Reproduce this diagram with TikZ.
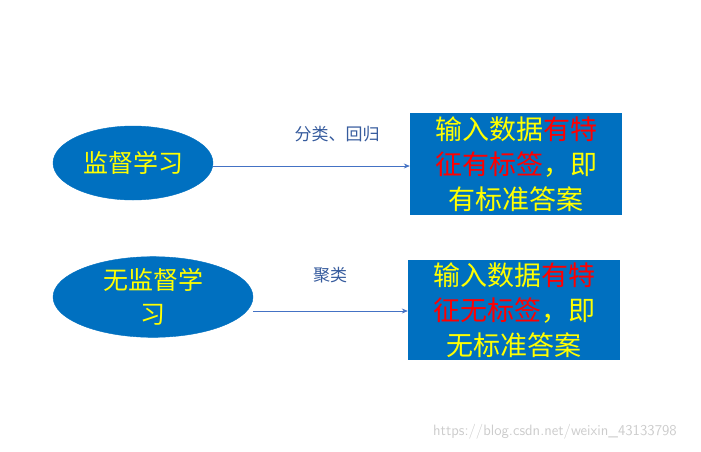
\documentclass[tikz,border=0pt]{standalone}
\usepackage{fontspec}
\newfontfamily\cjk{Noto Sans CJK SC}
\usetikzlibrary{shapes.geometric,arrows.meta}
\definecolor{bl}{HTML}{0070C0}
\definecolor{yl}{HTML}{FFFF00}
\definecolor{rd}{HTML}{FF0000}
\definecolor{lb}{HTML}{4472C4}
\tikzset{
 ell/.style={ellipse,fill=bl,draw=bl,text=yl,font=\cjk\fontsize{25}{34}\selectfont,inner sep=0pt,align=center},
 box/.style={rectangle,fill=bl,text=yl,font=\cjk\fontsize{27}{35}\selectfont,align=center,inner sep=0pt,minimum width=212pt},
 arr/.style={-{Stealth[length=6pt,width=5pt]},draw=lb,line width=0.7pt},
 lab/.style={text=lb!80!black,font=\cjk\fontsize{17}{20}\selectfont}
}
\begin{document}
\begin{tikzpicture}[x=1pt,y=-1pt]
\useasboundingbox (0,0) rectangle (701,451);
\node[ell,minimum width=160pt,minimum height=74pt] (e1) at (133,163) {监督学习};
\node[ell,minimum width=200pt,minimum height=77pt] (e2) at (153,297) {无监督学\\习};
\node[box,minimum height=102pt] (b1) at (516,164) {输入数据\textcolor{rd}{有特}\\\textcolor{rd}{征有标签}，即\\有标准答案};
\node[box,minimum height=100pt] (b2) at (514,310) {输入数据\textcolor{rd}{有特}\\\textcolor{rd}{征无标签}，即\\无标准答案};
\coordinate (a1) at (213,166);
\coordinate (a2) at (253,311);
\draw[arr] (a1) -- (a1 -| b1.west);
\draw[arr] (a2) -- (a2 -| b2.west);
\node[lab] (l1) at (337,134) {分类、回归};
\node[lab] (l2) at (330,275) {聚类};
\node[text=gray!40,font=\fontsize{15}{18}\selectfont\sffamily] (w) at (555,432) {https://blog.csdn.net/weixin\_43133798};
\end{tikzpicture}
\end{document}
